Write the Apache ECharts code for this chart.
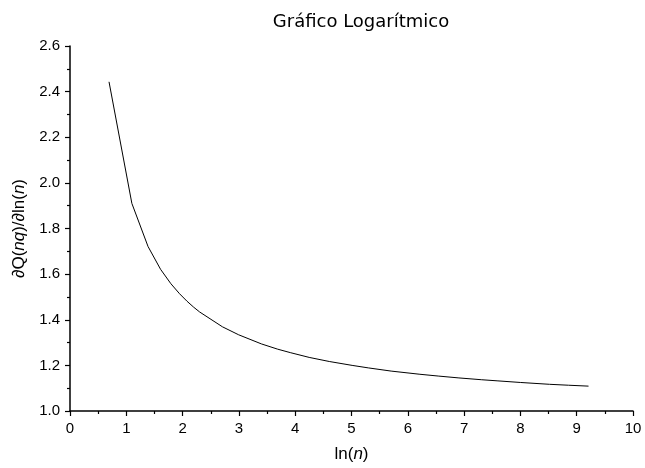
<!DOCTYPE html>
<html>
<head>
    <meta charset="UTF-8">
    <title>Gráfico Logarítmico</title>
    <style>
        html, body {
            margin: 0;
            padding: 0;
            background: #fff;
        }

        #chart {
            width: 645px;
            height: 468px;
        }
    </style>
    <script src="https://cdn.jsdelivr.net/npm/echarts@6/dist/echarts.min.js"></script>
</head>
<body>
<div id="chart"></div>
<script>
    // ln(n) values and the derivative
    var lnN = [0.693, 1.099, 1.386, 1.609, 1.792, 1.946, 2.079, 2.197, 2.303, 2.708,
        2.996, 3.401, 3.689, 3.912, 4.248, 4.605, 5.011, 5.298, 5.704, 6.215,
        6.551, 6.908, 7.313, 7.601, 8.006, 8.517, 8.854, 9.210];
    var dQ = [2.443, 1.910, 1.721, 1.621, 1.558, 1.514, 1.481, 1.455, 1.434, 1.369,
        1.334, 1.294, 1.271, 1.256, 1.235, 1.217, 1.200, 1.189, 1.175, 1.161,
        1.153, 1.145, 1.137, 1.132, 1.125, 1.117, 1.113, 1.109];

    var xTicks = [0, 1, 2, 3, 4, 5, 6, 7, 8, 9, 10];
    var yTicks = ['1.0', '1.2', '1.4', '1.6', '1.8', '2.0', '2.2', '2.4', '2.6'];

    var font = '"Liberation Sans", Arial, sans-serif';
    var points = lnN.map(function (x, i) {
        return [x, dQ[i]];
    });

    var nameRich = {
        a: {fontFamily: font, fontSize: 17, color: '#000'},
        i: {fontFamily: font, fontSize: 17, fontStyle: 'italic', color: '#000'}
    };

    var chart = echarts.init(document.getElementById('chart'), null, {renderer: 'canvas'});
    chart.setOption({
        animation: false,
        backgroundColor: '#fff',
        title: {
            text: 'Gráfico Logarítmico',
            left: 356,
            top: 8,
            textAlign: 'center',
            textStyle: {fontFamily: '"DejaVu Sans", sans-serif', fontSize: 18, fontWeight: 'normal', color: '#000'}
        },
        grid: {left: 70, right: 12, top: 46, bottom: 55, containLabel: false},
        xAxis: {
            type: 'value',
            min: xTicks[0],
            max: xTicks[xTicks.length - 1],
            interval: 1,
            name: '{a|ln(}{i|n}{a|)}',
            nameLocation: 'middle',
            nameGap: 35,
            nameTextStyle: {rich: nameRich},
            axisLine: {lineStyle: {color: '#000', width: 1.5}},
            axisTick: {length: 5, lineStyle: {color: '#000', width: 1.2}},
            minorTick: {show: true, splitNumber: 2, length: 3, lineStyle: {color: '#000', width: 1.2}},
            axisLabel: {
                fontFamily: font, fontSize: 15, color: '#000', margin: 10,
                formatter: function (v) { return String(v); }
            },
            splitLine: {show: false}
        },
        yAxis: {
            type: 'value',
            min: 1.0,
            max: 2.6,
            interval: 0.2,
            name: '{a|∂Q(}{i|nq}{a|)/∂ln(}{i|n}{a|)}',
            nameLocation: 'middle',
            nameGap: 42,
            nameRotate: 90,
            nameTextStyle: {rich: nameRich},
            axisLine: {show: true, lineStyle: {color: '#000', width: 1.5}},
            axisTick: {show: true, length: 5, lineStyle: {color: '#000', width: 1.2}},
            minorTick: {show: true, splitNumber: 2, length: 3, lineStyle: {color: '#000', width: 1.2}},
            axisLabel: {
                fontFamily: font, fontSize: 15, color: '#000', margin: 10,
                formatter: function (v) {
                    return yTicks[Math.round((v - 1.0) / 0.2)];
                }
            },
            splitLine: {show: false}
        },
        series: [{
            type: 'line',
            data: points,
            symbol: 'none',
            lineStyle: {color: '#000', width: 1}
        }]
    });
</script>
</body>
</html>
